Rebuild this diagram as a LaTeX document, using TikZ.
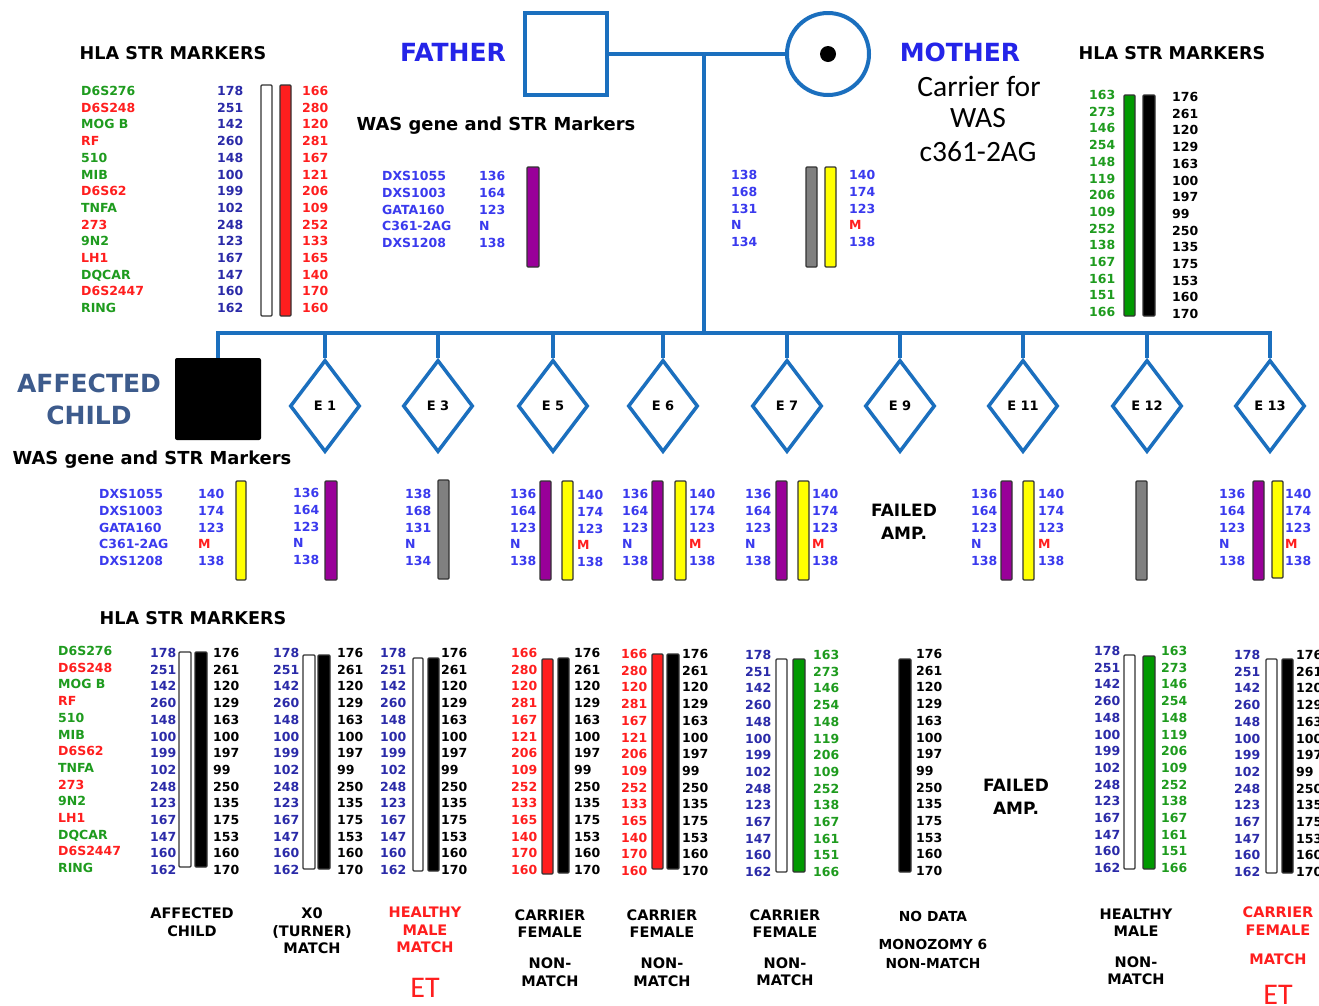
\documentclass[tikz,border=0pt]{standalone}
\usepackage{fontspec}
\setmainfont{DejaVu Sans}
\newfontfamily\carl{Carlito}
\usetikzlibrary{shapes.geometric}
\definecolor{pblue}{HTML}{1B6FBE}
\definecolor{tblue}{HTML}{2424E8}
\definecolor{ablue}{HTML}{3D5B8C}
\definecolor{hgreen}{HTML}{1E9B1E}
\definecolor{hred}{HTML}{FF1E1E}
\definecolor{hblue}{HTML}{2A2AA8}
\definecolor{wblue}{HTML}{3A3AEE}
\definecolor{bpurple}{HTML}{990099}
\definecolor{bgreen}{HTML}{009900}
\definecolor{bgray}{HTML}{808080}
\definecolor{byellow}{HTML}{FFFF00}
\newcommand{\myfs}[1]{\fontsize{#1}{#1}\selectfont}
\newcommand{\myfss}[2]{\fontsize{#1}{#2}\selectfont}
\def\Lblue{178,251,142,260,148,100,199,102,248,123,167,147,160,162}
\def\Lred{166,280,120,281,167,121,206,109,252,133,165,140,170,160}
\def\Lgreen{163,273,146,254,148,119,206,109,252,138,167,161,151,166}
\def\Lblack{176,261,120,129,163,100,197,99,250,135,175,153,160,170}
\def\Wa{136,164,123,N,138}
\def\Wb{140,174,123,{\textcolor{hred}{M}},138}
\def\Wc{138,168,131,N,134}
\tikzset{
  numtxt/.style={inner sep=0pt, font=\bfseries\myfs{12.5}, text height=9pt, text depth=0pt},
  bar/.style={draw=black!80, line width=1.2pt, rounded corners=1pt, inner sep=0pt},
  ped/.style={draw=pblue, line width=4pt},
  emb/.style={diamond, draw=pblue, line width=3.5pt, minimum width=70pt, minimum height=92pt, inner sep=0pt, font=\bfseries\myfs{13}},
  head/.style={font=\bfseries\myfs{17.6}, inner sep=0pt},
  wastitle/.style={font=\bfseries\myfs{17.9}, inner sep=0pt},
  lab/.style={font=\bfseries\myfss{14.5}{17.5}, align=center, inner sep=0pt},
  labc/.style={font=\bfseries\myfss{13.8}{18.5}, align=center, inner sep=0pt},
  etx/.style={font=\carl\myfs{30}, text=hred, inner sep=0pt},
}
% value column: prefix, x, y0, colour, list, step
\newcommand{\valcol}[6]{%
  \foreach \v [count=\k] in #5 {%
    \node[numtxt, anchor=west, text=#4] (#1-\k) at (#2,{#3+(\k-1)*#6}) {\v};}}
% bar: name, x1, y1, x2, y2, fill
\newcommand{\stbar}[6]{%
  \node[bar, fill=#6, minimum width={#4-#2}, minimum height={#5-#3}] (#1) at ({(#2+#4)/2},{(#3+#5)/2}) {};}
% HLA marker names: prefix, x, y0
\newcommand{\namecol}[3]{%
  \foreach \n/\c [count=\k] in {D6S276/hgreen, D6S248/hred, MOG B/hgreen, RF/hred, 510/hgreen, MIB/hgreen, D6S62/hred, TNFA/hgreen, 273/hred, 9N2/hgreen, LH1/hred, DQCAR/hgreen, D6S2447/hred, RING/hgreen}{%
    \node[numtxt, anchor=west, text=\c] (#1-\k) at (#2,{#3+(\k-1)*16.7}) {\n};}}
% WAS marker names: prefix, x, y0
\newcommand{\wasnames}[3]{%
  \foreach \n [count=\k] in {DXS1055,DXS1003,GATA160,C361-2AG,DXS1208}{%
    \node[numtxt, anchor=west, text=wblue] (#1-\k) at (#2,{#3+(\k-1)*16.8}) {\n};}}
\begin{document}
\begin{tikzpicture}[x=1pt,y=-1pt]
\useasboundingbox (0,0) rectangle (1319,1005);
\fill[white] (0,0) rectangle (1319,1005);

% ---------- top left HLA ----------
\node[head] (hla1) at (173,53) {HLA STR MARKERS};
\namecol{n1}{81}{91}
\valcol{b1}{217}{91}{hblue}{\Lblue}{16.7}
\stbar{w1}{261}{85}{272}{316}{white}
\stbar{r1}{280}{85}{291}{316}{hred}
\valcol{r1v}{302}{91}{hred}{\Lred}{16.7}

% ---------- parents ----------
\node[draw=pblue, line width=4pt, minimum size=82pt, inner sep=0pt] (father) at (566,54) {};
\node[font=\bfseries\myfs{25}, text=tblue, inner sep=0pt] (ftxt) at (453,52) {FATHER};
\node[circle, draw=pblue, line width=4pt, minimum size=82pt, inner sep=0pt] (mother) at (828,54) {};
\node[circle, fill=black, minimum size=16pt, inner sep=0pt] (mdot) at (828,54) {};
\node[font=\bfseries\myfs{25}, text=tblue, inner sep=0pt] (mtxt) at (960,52) {MOTHER};
\node[font=\carl\myfs{29.5}, inner sep=0pt] (car1) at (979,86) {Carrier for};
\node[font=\carl\myfs{29.5}, inner sep=0pt] (car2) at (978,118) {WAS};
\node[font=\carl\myfs{29.5}, inner sep=0pt] (car3) at (978,152) {c361-2AG};

% ---------- father WAS ----------
\node[wastitle] (was1) at (496,126) {WAS gene and STR Markers};
\wasnames{fw}{382}{176}
\valcol{fwv}{479}{176}{wblue}{\Wa}{16.8}
\stbar{fwb}{527}{167}{539}{267}{bpurple}

% ---------- mother WAS ----------
\valcol{mwl}{731}{175}{wblue}{\Wc}{16.8}
\stbar{mwg}{806}{167}{817}{267}{bgray}
\stbar{mwy}{825}{167}{836}{267}{byellow}
\valcol{mwr}{849}{175}{wblue}{\Wb}{16.8}

% ---------- mother HLA ----------
\node[head] (hla2) at (1172,53) {HLA STR MARKERS};
\valcol{mgv}{1089}{95}{hgreen}{\Lgreen}{16.7}
\stbar{mgb}{1124}{95}{1135}{316}{bgreen}
\stbar{mkb}{1143}{95}{1155}{316}{black}
\valcol{mkv}{1172}{97}{black}{\Lblack}{16.7}

% ---------- pedigree lines ----------
\coordinate (mid) at (704,54);
\coordinate (junc) at (704,333);
\coordinate (sibR) at (1270,333);
\draw[ped] (father.east) -- (mother.west);
\draw[ped] (mid) -- (junc);
\node[fill=black, rounded corners=2pt, minimum width=86pt, minimum height=82pt, inner sep=0pt] (child) at (218,399) {};
\foreach \nm/\x/\t in {e1/325/E 1, e3/438/E 3, e5/553/E 5, e6/663/E 6, e7/787/E 7, e9/900/E 9, e11/1023/E 11, e12/1147/E 12, e13/1270/E 13}{
  \node[emb] (\nm) at (\x,406) {\t};
  \draw[ped] (\nm.north) -- (\nm.north |- junc);
}
\draw[ped, line join=miter] (child.north) |- (sibR) -- (e13.north);

\node[font=\bfseries\myfs{25}, text=ablue, inner sep=0pt] (aff1) at (89,383) {AFFECTED};
\node[font=\bfseries\myfs{25}, text=ablue, inner sep=0pt] (aff2) at (89,415) {CHILD};
\node[wastitle] (was2) at (152,460) {WAS gene and STR Markers};

% ---------- lower WAS row ----------
\wasnames{cw}{99}{494}
\valcol{cwv}{198}{494}{wblue}{\Wb}{16.8}
\stbar{cwy}{236}{481}{246}{580}{byellow}
\valcol{e1w}{293}{493}{wblue}{\Wa}{16.8}
\stbar{e1p}{325}{481}{337}{580}{bpurple}
\valcol{e3w}{405}{494}{wblue}{\Wc}{16.8}
\stbar{e3g}{438}{480}{449}{579}{bgray}
\valcol{e5wl}{510}{494}{wblue}{\Wa}{16.8}
\stbar{e5p}{540}{481}{551}{580}{bpurple}
\stbar{e5y}{562}{481}{573}{580}{byellow}
\valcol{e5wr}{577}{495}{wblue}{\Wb}{16.8}
\valcol{e6wl}{622}{494}{wblue}{\Wa}{16.8}
\stbar{e6p}{652}{481}{663}{580}{bpurple}
\stbar{e6y}{675}{481}{686}{580}{byellow}
\valcol{e6wr}{689}{494}{wblue}{\Wb}{16.8}
\valcol{e7wl}{745}{494}{wblue}{\Wa}{16.8}
\stbar{e7p}{776}{481}{787}{580}{bpurple}
\stbar{e7y}{798}{481}{809}{580}{byellow}
\valcol{e7wr}{812}{494}{wblue}{\Wb}{16.8}
\node[head, align=center, font=\bfseries\myfss{17}{23}] (e9f) at (904,522) {FAILED\\AMP.};
\valcol{e11wl}{971}{494}{wblue}{\Wa}{16.8}
\stbar{e11p}{1001}{481}{1012}{580}{bpurple}
\stbar{e11y}{1023}{481}{1034}{580}{byellow}
\valcol{e11wr}{1038}{494}{wblue}{\Wb}{16.8}
\stbar{e12g}{1136}{481}{1147}{580}{bgray}
\valcol{e13wl}{1219}{494}{wblue}{\Wa}{16.8}
\stbar{e13p}{1253}{481}{1264}{580}{bpurple}
\stbar{e13y}{1272}{481}{1283}{578}{byellow}
\valcol{e13wr}{1285}{494}{wblue}{\Wb}{16.8}

% ---------- lower HLA ----------
\node[head] (hla3) at (193,618) {HLA STR MARKERS};
\namecol{n3}{58}{651}
% affected child
\valcol{c1b}{150}{653}{hblue}{\Lblue}{16.7}
\stbar{c1w}{179}{652}{191}{867}{white}
\stbar{c1k}{195}{652}{207}{867}{black}
\valcol{c1v}{213}{653}{black}{\Lblack}{16.7}
% E1
\valcol{c2b}{273}{653}{hblue}{\Lblue}{16.7}
\stbar{c2w}{303}{655}{315}{869}{white}
\stbar{c2k}{318}{655}{330}{869}{black}
\valcol{c2v}{337}{653}{black}{\Lblack}{16.7}
% E3
\valcol{c3b}{380}{653}{hblue}{\Lblue}{16.7}
\stbar{c3w}{413}{658}{423}{871}{white}
\stbar{c3k}{428}{658}{439}{871}{black}
\valcol{c3v}{441}{653}{black}{\Lblack}{16.7}
% E5
\valcol{c4r}{511}{653}{hred}{\Lred}{16.7}
\stbar{c4rb}{542}{659}{553}{874}{hred}
\stbar{c4k}{558}{658}{569}{873}{black}
\valcol{c4v}{574}{653}{black}{\Lblack}{16.7}
% E6
\valcol{c5r}{621}{654}{hred}{\Lred}{16.7}
\stbar{c5rb}{652}{654}{663}{869}{hred}
\stbar{c5k}{667}{654}{679}{869}{black}
\valcol{c5v}{682}{654}{black}{\Lblack}{16.7}
% E7
\valcol{c6b}{745}{655}{hblue}{\Lblue}{16.7}
\stbar{c6w}{776}{659}{787}{872}{white}
\stbar{c6g}{793}{659}{805}{872}{bgreen}
\valcol{c6v}{813}{655}{hgreen}{\Lgreen}{16.7}
% E9
\stbar{c7k}{899}{659}{911}{872}{black}
\valcol{c7v}{916}{654}{black}{\Lblack}{16.7}
% E11
\node[head, align=center, font=\bfseries\myfss{17}{23}] (e11f) at (1016,797) {FAILED\\AMP.};
% E12
\valcol{c8b}{1094}{651}{hblue}{\Lblue}{16.7}
\stbar{c8w}{1124}{655}{1135}{869}{white}
\stbar{c8g}{1143}{656}{1155}{869}{bgreen}
\valcol{c8v}{1161}{651}{hgreen}{\Lgreen}{16.7}
% E13
\valcol{c9b}{1234}{655}{hblue}{\Lblue}{16.7}
\stbar{c9w}{1266}{659}{1277}{873}{white}
\stbar{c9k}{1282}{659}{1293}{873}{black}
\valcol{c9v}{1296}{655}{black}{\Lblack}{16.7}

% ---------- bottom labels ----------
\node[lab] (l1) at (192,922) {AFFECTED\\CHILD};
\node[lab] (l2) at (312,931) {X0\\(TURNER)\\MATCH};
\node[lab, text=hred] (l3) at (425,930) {HEALTHY\\MALE\\MATCH};
\node[etx] (et1) at (425,988) {ET};
\node[lab] (l4a) at (550,923.5) {CARRIER\\FEMALE};
\node[lab] (l4b) at (550,972) {NON-\\MATCH};
\node[lab] (l5a) at (662,923.5) {CARRIER\\FEMALE};
\node[lab] (l5b) at (662,972) {NON-\\MATCH};
\node[lab] (l6a) at (785,923.5) {CARRIER\\FEMALE};
\node[lab] (l6b) at (785,971.5) {NON-\\MATCH};
\node[labc] (l7a) at (933,916) {NO DATA};
\node[labc] (l7b) at (933,954) {MONOZOMY 6\\NON-MATCH};
\node[lab] (l8a) at (1136,922.5) {HEALTHY\\MALE};
\node[lab] (l8b) at (1136,970.5) {NON-\\MATCH};
\node[lab, text=hred] (l9a) at (1278,921) {CARRIER\\FEMALE};
\node[lab, text=hred] (l9b) at (1278,959) {MATCH};
\node[etx] (et2) at (1278,995) {ET};
\end{tikzpicture}
\end{document}
